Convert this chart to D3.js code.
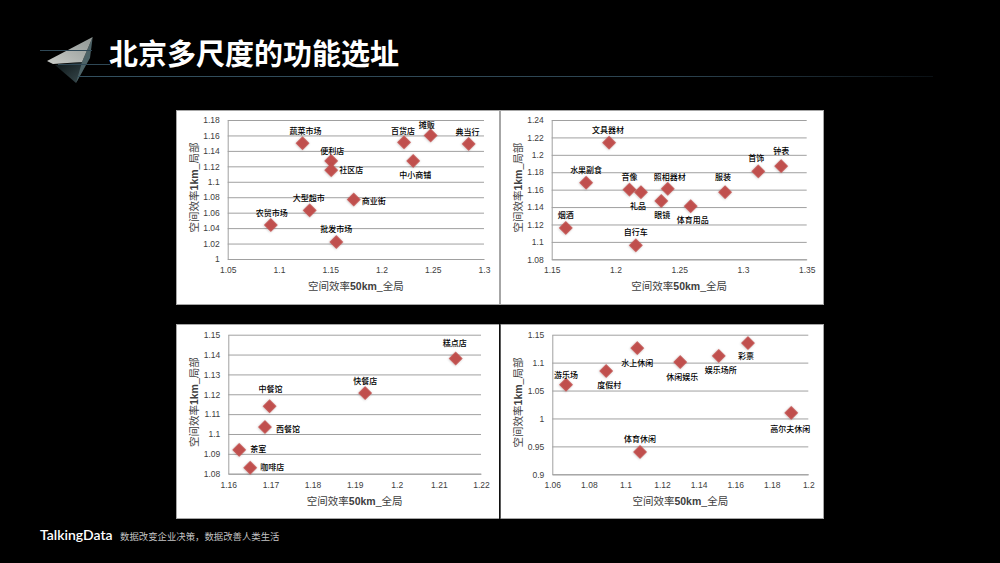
<!DOCTYPE html>
<html>
<head>
<meta charset="utf-8">
<script src="https://cdn.jsdelivr.net/npm/d3@7"></script>
<style>
  html, body { margin: 0; padding: 0; background: #000; }
  svg { display: block; }
  text { font-family: "Liberation Sans", "Noto Sans CJK SC", sans-serif; }
</style>
</head>
<body>
<svg id="chart" width="1000" height="563"></svg>
<script>
// 零售
const retailNames = ['蔬菜市场', '便利店', '社区店', '百货店', '摊贩', '典当行', '中小商铺', '商业街', '大型超市', '农贸市场', '批发市场'];
const retailX = [1.123, 1.151, 1.151, 1.222, 1.248, 1.285, 1.231, 1.173, 1.13, 1.092, 1.156];
const retailY = [1.15, 1.127, 1.115, 1.151, 1.16, 1.149, 1.127, 1.077, 1.063, 1.044, 1.022];
const retailXTicks = [1.05, 1.1, 1.15, 1.2, 1.25, 1.3];
const retailYTicks = [1, 1.02, 1.04, 1.06, 1.08, 1.1, 1.12, 1.14, 1.16, 1.18];

// 专卖
const shopNames = ['文具器材', '水果副食', '音像', '礼品', '照相器材', '眼镜', '体育用品', '服装', '首饰', '钟表', '烟酒', '自行车'];
const shopX = [1.195, 1.177, 1.211, 1.22, 1.241, 1.236, 1.259, 1.286, 1.312, 1.33, 1.161, 1.216];
const shopY = [1.214, 1.168, 1.16, 1.157, 1.161, 1.147, 1.141, 1.157, 1.181, 1.187, 1.116, 1.096];
const shopXTicks = [1.15, 1.2, 1.25, 1.3, 1.35];
const shopYTicks = [1.08, 1.1, 1.12, 1.14, 1.16, 1.18, 1.2, 1.22, 1.24];

// 餐饮
const foodNames = ['糕点店', '快餐店', '中餐馆', '西餐馆', '茶室', '咖啡店'];
const foodX = [1.214, 1.1925, 1.1698, 1.1687, 1.1626, 1.1652];
const foodY = [1.138, 1.1206, 1.114, 1.1035, 1.092, 1.083];
const foodXTicks = [1.16, 1.17, 1.18, 1.19, 1.2, 1.21, 1.22];
const foodYTicks = [1.08, 1.09, 1.1, 1.11, 1.12, 1.13, 1.14, 1.15];

// 休闲
const leisureNames = ['游乐场', '度假村', '水上休闲', '休闲娱乐', '娱乐场所', '彩票', '高尔夫休闲', '体育休闲'];
const leisureX = [1.0675, 1.0895, 1.1065, 1.13, 1.151, 1.167, 1.1907, 1.108];
const leisureY = [1.0605, 1.085, 1.126, 1.101, 1.112, 1.135, 1.01, 0.94];
const leisureXTicks = [1.06, 1.08, 1.1, 1.12, 1.14, 1.16, 1.18, 1.2];
const leisureYTicks = [0.9, 0.95, 1, 1.05, 1.1, 1.15];

// 标签相对点的偏移，单位 px
const retailLabelOffsets = [[3, -12], [1, -10], [20, 0], [-1, -11], [-4, -10], [-1, -12], [2, 14], [20, 2], [-1, -12], [1, -12], [0, -13]];
const shopLabelOffsets = [[-1, -12], [0, -12], [0, -12], [-3, 14], [2, -12], [1, 14], [2, 14], [-2, -15], [-2, -13], [0, -15], [0, -13], [0, -13]];
const foodLabelOffsets = [[-1, -15], [0, -12], [1, -17], [23, 2], [19, -1], [22, -1]];
const leisureLabelOffsets = [[0, -9], [3, 14], [0, 15], [2, 15], [2, 14], [-2, 13], [-1, 16], [0, -13]];

const svg = d3.select('#chart');

const defs = svg.append('defs');
const shadow = defs.append('filter').attr('id', 'markShadow')
    .attr('x', '-40%').attr('y', '-40%').attr('width', '180%').attr('height', '180%');
shadow.append('feDropShadow')
    .attr('dx', 0).attr('dy', 0.5).attr('stdDeviation', 0.8)
    .attr('flood-color', '#000').attr('flood-opacity', 0.25);
const lineFade = defs.append('linearGradient').attr('id', 'lineFade');
lineFade.append('stop').attr('offset', '0%').attr('stop-color', '#33505f');
lineFade.append('stop').attr('offset', '70%').attr('stop-color', '#2c4350');
lineFade.append('stop').attr('offset', '100%').attr('stop-color', '#0a1014');
const stone = defs.append('linearGradient').attr('id', 'stone')
    .attr('x1', '100%').attr('y1', '0%').attr('x2', '0%').attr('y2', '100%');
stone.append('stop').attr('offset', '0%').attr('stop-color', '#8f9693');
stone.append('stop').attr('offset', '100%').attr('stop-color', '#c9cbc7');
const body = defs.append('linearGradient').attr('id', 'body')
    .attr('x1', '0%').attr('y1', '0%').attr('x2', '100%').attr('y2', '100%');
body.append('stop').attr('offset', '0%').attr('stop-color', '#0c1416');
body.append('stop').attr('offset', '100%').attr('stop-color', '#3a4c50');

/**
 * 画标题区：图标、横线和标题。
 */
function drawHeader() {
    const header = svg.append('g');
    header.append('polygon').attr('points', '55,65 82,62 85,66 76,83').attr('fill', 'url(#body)');
    header.append('polygon').attr('points', '92.7,37 82,62 76,83 90,58').attr('fill', '#4c6266');
    header.append('polygon').attr('points', '92.7,37 47,61 53,64 82,62').attr('fill', 'url(#stone)');
    header.append('line').attr('x1', 40).attr('x2', 92).attr('y1', 50.5).attr('y2', 50.5)
        .attr('stroke', '#2f4856');
    header.append('line').attr('x1', 58).attr('x2', 110).attr('y1', 64.5).attr('y2', 64.5)
        .attr('stroke', '#2f4856');
    header.append('rect').attr('x', 78).attr('y', 76).attr('width', 855).attr('height', 1)
        .attr('fill', 'url(#lineFade)');
    header.append('text').attr('x', 109).attr('y', 64.5)
        .attr('fill', '#fff').attr('font-size', 29).attr('font-weight', 700)
        .style('font-family', '"Noto Sans CJK SC", sans-serif')
        .text('北京多尺度的功能选址');
}

/**
 * 画页脚的品牌和口号。
 */
function drawFooter() {
    svg.append('text').attr('x', 40).attr('y', 540)
        .attr('fill', '#fff').attr('font-size', 14).attr('font-weight', 600)
        .style('font-family', 'Lato, sans-serif')
        .text('TalkingData');
    svg.append('text').attr('x', 120).attr('y', 540)
        .attr('fill', '#c4c4c4').attr('font-size', 9.4)
        .style('font-family', '"Noto Sans CJK SC", sans-serif')
        .text('数据改变企业决策，数据改善人类生活');
}

/**
 * 画一个散点图面板。
 * @param {Object} panel - 面板的位置和绘图区。
 * @param {Array} names - 点的名称。
 * @param {Array} xs - 空间效率50km。
 * @param {Array} ys - 空间效率1km。
 * @param {Array} xTicks - x 轴刻度。
 * @param {Array} yTicks - y 轴刻度。
 * @param {Array} offsets - 标签偏移。
 */
function drawPanel(panel, names, xs, ys, xTicks, yTicks, offsets) {
    const g = svg.append('g');

    g.append('rect')
        .attr('x', panel.x + 0.5).attr('y', panel.y + 0.5)
        .attr('width', panel.w - 1).attr('height', panel.h - 1)
        .attr('fill', '#fff').attr('stroke', panel.border);

    const x = d3.scaleLinear().domain(d3.extent(xTicks)).range([panel.left, panel.right]);
    const y = d3.scaleLinear().domain(d3.extent(yTicks)).range([panel.bottom, panel.top]);

    const yAxis = g.append('g')
        .attr('transform', `translate(${panel.left},0)`)
        .call(d3.axisLeft(y).tickValues(yTicks).tickFormat(String).tickSize(0).tickPadding(8));
    yAxis.selectAll('.tick line')
        .attr('x2', panel.right - panel.left)
        .attr('stroke', '#a0a0a0');
    yAxis.select('.domain').attr('stroke', '#a0a0a0');

    const xAxis = g.append('g')
        .attr('transform', `translate(0,${panel.bottom})`)
        .call(d3.axisBottom(x).tickValues(xTicks).tickFormat(String).tickSize(0).tickPadding(8));
    xAxis.select('.domain').attr('stroke', '#a0a0a0');

    g.selectAll('.tick text')
        .attr('fill', '#404040').attr('font-size', 8.5)
        .style('font-family', '"Liberation Sans", sans-serif');

    // 坐标轴标题里只有数字部分是粗体
    const xTitle = g.append('text')
        .attr('x', (panel.left + panel.right) / 2)
        .attr('y', panel.bottom + 31)
        .attr('text-anchor', 'middle').attr('font-size', 10.5).attr('fill', '#404040');
    xTitle.append('tspan').text('空间效率');
    xTitle.append('tspan').attr('font-weight', 700).text('50km');
    xTitle.append('tspan').text('_全局');

    const yTitle = g.append('text')
        .attr('transform', `translate(${panel.left - 30},${(panel.top + panel.bottom) / 2 - 2}) rotate(-90)`)
        .attr('text-anchor', 'middle').attr('font-size', 10.5).attr('fill', '#404040');
    yTitle.append('tspan').text('空间效率');
    yTitle.append('tspan').attr('font-weight', 700).text('1km');
    yTitle.append('tspan').text('_局部');

    const diamond = d3.symbol().type(d3.symbolSquare).size(95);
    g.append('g').selectAll('path')
        .data(names)
        .join('path')
        .attr('d', diamond)
        .attr('transform', (d, i) => `translate(${x(xs[i])},${y(ys[i])}) rotate(45)`)
        .attr('fill', '#c0504d')
        .attr('filter', 'url(#markShadow)');

    g.append('g').selectAll('text')
        .data(names)
        .join('text')
        .attr('x', (d, i) => x(xs[i]) + offsets[i][0])
        .attr('y', (d, i) => y(ys[i]) + offsets[i][1])
        .attr('dy', '0.35em')
        .attr('text-anchor', 'middle')
        .attr('font-size', 8)
        .attr('font-weight', 500)
        .attr('fill', '#000')
        .style('font-family', '"Noto Sans CJK SC", sans-serif')
        .text(d => d);
}

svg.append('rect').attr('width', 1000).attr('height', 563).attr('fill', '#000');
drawHeader();
drawFooter();

drawPanel({ x: 176, y: 110, w: 324, h: 195, left: 227.7, right: 484, top: 120, bottom: 259, border: '#a6a6a6' },
    retailNames, retailX, retailY, retailXTicks, retailYTicks, retailLabelOffsets);
drawPanel({ x: 500, y: 110, w: 324, h: 195, left: 551.7, right: 806.7, top: 120, bottom: 259.3, border: '#a6a6a6' },
    shopNames, shopX, shopY, shopXTicks, shopYTicks, shopLabelOffsets);
drawPanel({ x: 176, y: 324, w: 324, h: 195, left: 228.3, right: 481, top: 334.7, bottom: 473.7, border: '#a6a6a6' },
    foodNames, foodX, foodY, foodXTicks, foodYTicks, foodLabelOffsets);
drawPanel({ x: 500, y: 324, w: 324, h: 195, left: 552.3, right: 808.3, top: 334.7, bottom: 474.3, border: '#a6a6a6' },
    leisureNames, leisureX, leisureY, leisureXTicks, leisureYTicks, leisureLabelOffsets);

// 下面两个面板之间是一条黑线
svg.append('rect').attr('x', 499).attr('y', 324).attr('width', 1.5).attr('height', 195).attr('fill', '#111');
</script>
</body>
</html>
